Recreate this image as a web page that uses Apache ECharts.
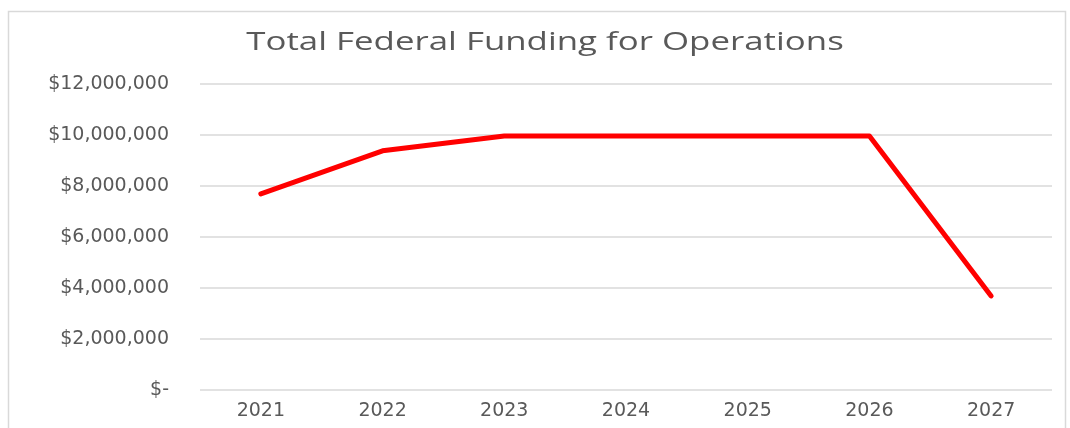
<!DOCTYPE html>
<html>
<head>
<meta charset="utf-8">
<script src="https://cdn.jsdelivr.net/npm/echarts@6/dist/echarts.min.js"></script>
<style>html,body{margin:0;padding:0;background:#fff;}#c{width:1070px;height:428px;}</style>
</head>
<body>
<div id="c"></div>
<script>
const titleText = 'Total Federal Funding for Operations';
const years = ['2021','2022','2023','2024','2025','2026','2027'];
const funding = [7690000, 9380000, 9960000, 9960000, 9960000, 9960000, 3690000];

function fmt(v){ return v === 0 ? '$-' : '$' + v.toLocaleString('en-US'); }

const chart = echarts.init(document.getElementById('c'));
chart.setOption({
  animation:false,
  backgroundColor:'#ffffff',
  graphic:[
    {type:'rect',shape:{x:8.5,y:11.5,width:1057,height:440},style:{fill:'none',stroke:'#d9d9d9',lineWidth:1.5},silent:true,z:-1},
    {type:'text',x:545,y:43,scaleX:1.34,scaleY:1,silent:true,
     style:{text:titleText,align:'center',verticalAlign:'middle',
            fontFamily:'Open Sans',fontSize:26,fill:'#595959'}}
  ],
  grid:{left:200,right:18,top:84,bottom:38},
  xAxis:{type:'category',data:years,boundaryGap:true,
    axisLine:{show:false},axisTick:{show:false},
    axisLabel:{margin:12,fontFamily:'DejaVu Sans',fontSize:19,color:'#595959'}},
  yAxis:{type:'value',min:0,max:12000000,interval:2000000,
    axisLine:{show:false},axisTick:{show:false},
    splitLine:{lineStyle:{color:'#d9d9d9',width:1.5}},
    axisLabel:{margin:31,fontFamily:'DejaVu Sans',fontSize:19,color:'#595959',formatter:fmt}},
  series:[{type:'line',data:funding,symbol:'none',lineStyle:{color:'#ff0000',width:5,cap:'round',join:'round'}}]
});
</script>
</body>
</html>
